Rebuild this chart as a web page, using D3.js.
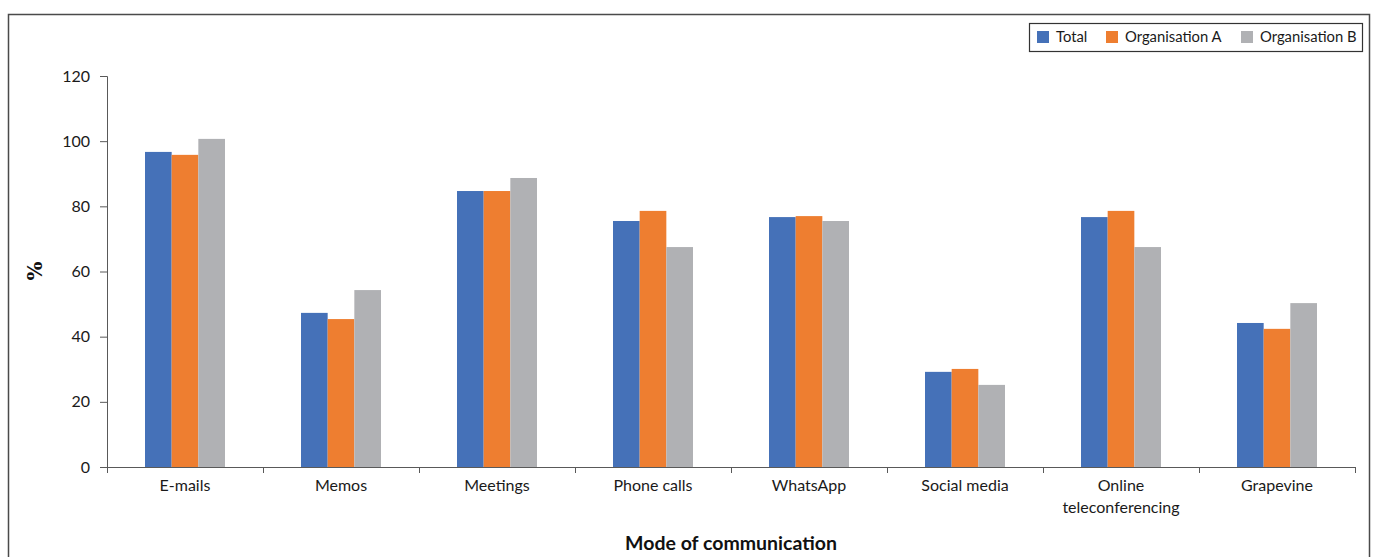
<!DOCTYPE html>
<html>
<head>
<meta charset="utf-8">
<script src="https://cdn.jsdelivr.net/npm/d3@7"></script>
<style>
  body { margin: 0; background: #fff; }
  svg { display: block; font-family: Lato, "Open Sans", sans-serif; }
</style>
</head>
<body>
<div id="chart"></div>
<script>
const categories = ["E-mails", "Memos", "Meetings", "Phone calls", "WhatsApp", "Social media", "Online\nteleconferencing", "Grapevine"];
const seriesNames = ["Total", "Organisation A", "Organisation B"];
const total = [96.7, 47.3, 84.7, 75.5, 76.7, 29.2, 76.7, 44.2];
const orgA  = [95.8, 45.4, 84.7, 78.6, 77, 30.1, 78.6, 42.4];
const orgB  = [100.7, 54.3, 88.7, 67.5, 75.5, 25.2, 67.5, 50.3];
const yTicks = [0, 20, 40, 60, 80, 100, 120];
const colors = ["#4571b8", "#ee7e30", "#b0b1b4"];

const width = 1375, height = 557;

const data = categories.map((c, i) => ({ cat: c, values: [total[i], orgA[i], orgB[i]] }));

let svg = d3.select("#chart")
    .append("svg")
    .attr("width", width)
    .attr("height", height);

// outer frame
svg.append("rect")
    .attr("x", 8.5).attr("y", 14.5)
    .attr("width", 1361).attr("height", 560)
    .attr("fill", "none")
    .attr("stroke", "#4a4a4a")
    .attr("stroke-width", 1.5);

let x0 = d3.scaleBand()
    .domain(categories)
    .range([107, 1355])
    .padding(0);

const groupW = 80;
let x1 = d3.scaleBand()
    .domain(seriesNames)
    .range([(x0.bandwidth() - groupW) / 2, (x0.bandwidth() + groupW) / 2])
    .padding(0);

let y = d3.scaleLinear()
    .domain([0, 120])
    .range([467, 76]);

// bars
let group = svg.selectAll(".grp")
    .data(data)
    .join("g")
    .attr("class", "grp")
    .attr("transform", d => `translate(${x0(d.cat)},0)`);

group.selectAll("rect")
    .data(d => d.values.map((v, j) => ({ key: seriesNames[j], v: v, j: j })))
    .join("rect")
    .attr("x", d => x1(d.key))
    .attr("width", x1.bandwidth())
    .attr("y", d => y(d.v))
    .attr("height", d => y(0) - y(d.v))
    .attr("fill", d => colors[d.j]);

// y axis
let yAxis = svg.append("g")
    .attr("transform", `translate(107,0)`)
    .call(d3.axisLeft(y).tickValues(yTicks).tickSize(7).tickPadding(10));
yAxis.select(".domain").attr("stroke", "#595959");
yAxis.selectAll(".tick line").attr("stroke", "#595959");
yAxis.selectAll(".tick text")
    .attr("font-size", 16)
    .attr("fill", "#1a1a1a")
    .style("font-family", "Lato, sans-serif");

// x axis
let xAxis = svg.append("g")
    .attr("transform", `translate(0,467)`);
xAxis.append("line")
    .attr("x1", 107).attr("x2", 1355)
    .attr("y1", 0.5).attr("y2", 0.5)
    .attr("stroke", "#595959");
xAxis.selectAll(".xt")
    .data(categories.map(c => x0(c)).concat([x0.range()[1]]))
    .join("line")
    .attr("class", "xt")
    .attr("x1", d => d + 0.5).attr("x2", d => d + 0.5)
    .attr("y1", 0).attr("y2", 6)
    .attr("stroke", "#595959");

let labels = xAxis.selectAll(".xl")
    .data(categories)
    .join("text")
    .attr("class", "xl")
    .attr("x", d => x0(d) + x0.bandwidth() / 2)
    .attr("y", 24)
    .attr("text-anchor", "middle")
    .attr("font-size", 16)
    .attr("fill", "#1a1a1a");
labels.each(function(d) {
    const lines = d.split("\n");
    d3.select(this).selectAll("tspan")
        .data(lines)
        .join("tspan")
        .attr("x", x0(d) + x0.bandwidth() / 2)
        .attr("dy", (l, i) => i === 0 ? 0 : 22)
        .text(l => l);
});

// axis titles
svg.append("text")
    .attr("x", (107 + 1355) / 2)
    .attr("y", 550)
    .attr("text-anchor", "middle")
    .attr("font-size", 19.5)
    .attr("font-weight", "bold")
    .attr("fill", "#111")
    .text("Mode of communication");

svg.append("text")
    .attr("transform", "translate(42,271) rotate(-90)")
    .attr("text-anchor", "middle")
    .attr("font-size", 20)
    .attr("font-weight", "bold")
    .attr("fill", "#111")
    .style("font-family", "'DejaVu Serif', serif")
    .text("%");

// legend
let legend = svg.append("g");
legend.append("rect")
    .attr("x", 1029.5).attr("y", 23.5)
    .attr("width", 333).attr("height", 28)
    .attr("fill", "#fff")
    .attr("stroke", "#333")
    .attr("stroke-width", 1.2);

const legX = [1037, 1106, 1241];
let item = legend.selectAll(".li")
    .data(seriesNames)
    .join("g")
    .attr("class", "li")
    .attr("transform", (d, i) => `translate(${legX[i]},31)`);
item.append("rect")
    .attr("width", 12).attr("height", 12)
    .attr("fill", (d, i) => colors[i]);
item.append("text")
    .attr("x", 19).attr("y", 11)
    .attr("font-size", 14.8)
    .attr("fill", "#1a1a1a")
    .text(d => d);
</script>
</body>
</html>
